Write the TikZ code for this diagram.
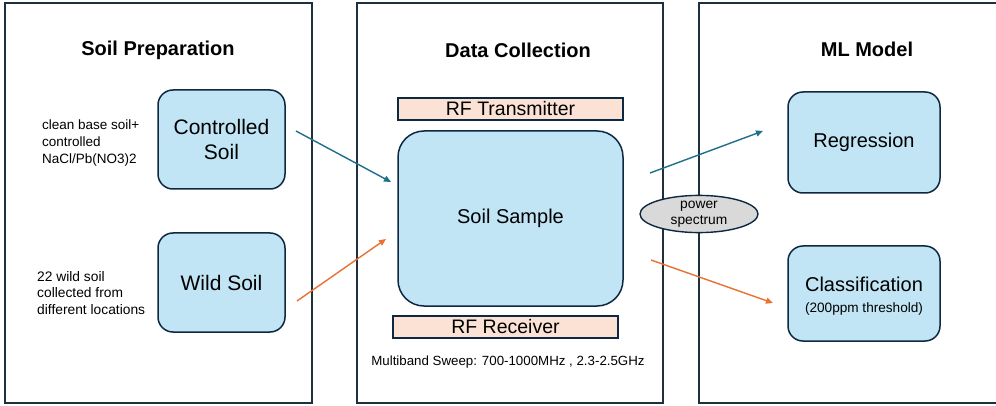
\documentclass[tikz,border=0pt]{standalone}
\usepackage{fontspec}
\setmainfont{Liberation Sans}
\usetikzlibrary{shapes.geometric,arrows.meta}
\definecolor{navy}{HTML}{0E2841}
\definecolor{panelline}{HTML}{1E3040}
\definecolor{boxfill}{HTML}{C1E5F5}
\definecolor{peach}{HTML}{FBE2D5}
\definecolor{bluearr}{HTML}{1F6E8C}
\definecolor{orangearr}{HTML}{E97132}
\definecolor{ellfill}{HTML}{D9D9D9}
\tikzset{
  panel/.style={draw=panelline, line width=1.6pt, fill=white, inner sep=0pt},
  paneltitle/.style={font=\bfseries\fontsize{20}{23}\selectfont, inner sep=0pt},
  softbox/.style={draw=navy, line width=1.5pt, fill=boxfill, rounded corners=15pt, inner sep=0pt, align=center, font=\fontsize{20}{25}\selectfont},
  rfbar/.style={draw=navy, line width=1.3pt, fill=peach, inner sep=0pt, font=\fontsize{19.5}{22}\selectfont},
  note/.style={align=left, inner sep=0pt, font=\fontsize{13.5}{16.8}\selectfont},
  conn/.style={line width=1.4pt, -{Triangle[length=7pt,width=6pt]}},
}
\begin{document}
\begin{tikzpicture}[x=1pt,y=-1pt]
\useasboundingbox (0,0) rectangle (996,406);
\clip (0,0) rectangle (996,406);
\fill[white] (0,0) rectangle (996,406);
% panels
\node[panel, minimum width=307pt, minimum height=400pt] (p1) at (158.5,203) {};
\node[panel, minimum width=306pt, minimum height=400pt] (p2) at (510,203) {};
\node[panel, minimum width=320pt, minimum height=400pt] (p3) at (859,203) {};
% titles
\node[paneltitle] (t1) at (158,50) {Soil Preparation};
\node[paneltitle] (t2) at (518,50) {Data Collection};
\node[paneltitle] (t3) at (867,49) {ML Model};
% soil preparation
\node[softbox, minimum width=127pt, minimum height=99pt, font=\fontsize{21}{25}\selectfont] (ctrl) at (221.5,139.5) {Controlled\\Soil};
\node[softbox, minimum width=127pt, minimum height=99pt, font=\fontsize{21}{25}\selectfont] (wild) at (221.5,282.5) {Wild Soil};
\node[note, anchor=west] (n1) at (42,143) {clean base soil+\\controlled\\NaCl/Pb(NO3)2};
\node[note, anchor=west, font=\fontsize{13.8}{16.8}\selectfont] (n2) at (37,293) {22 wild soil\\collected from\\different locations};
% data collection
\node[rfbar, minimum width=225pt, minimum height=22pt] (tx) at (510.5,109) {RF Transmitter};
\node[softbox, rounded corners=26pt, minimum width=225pt, minimum height=175pt] (sample) at (510.5,218.5) {Soil Sample};
\node[rfbar, minimum width=225pt, minimum height=22pt] (rx) at (505.5,327) {RF Receiver};
\node[note, font=\fontsize{13.3}{15}\selectfont] (sweep) at (508,362) {Multiband Sweep: 700-1000MHz , 2.3-2.5GHz};
% power spectrum
\node[ellipse, draw=navy, line width=1.4pt, fill=ellfill, minimum width=118pt, minimum height=36pt, inner sep=0pt, align=center, font=\fontsize{13.8}{16}\selectfont] (ps) at (699,214) {power\\spectrum};
% ML model
\node[softbox, minimum width=152pt, minimum height=101pt] (reg) at (864,142.5) {Regression};
\node[softbox, minimum width=152pt, minimum height=95pt] (cls) at (864,293.5) {\\[-6pt]Classification\\[-4pt]{\fontsize{13.6}{15}\selectfont(200ppm threshold)}};
% connector coordinates
\coordinate (a1s) at (296,131);
\coordinate (a1e) at (391,182);
\coordinate (a2s) at (297,301);
\coordinate (a2e) at (386,239);
\coordinate (a3s) at (650,173);
\coordinate (a3e) at (763,131);
\coordinate (a4s) at (651,260);
\coordinate (a4e) at (773,303);
\draw[conn, bluearr] (a1s) -- (a1e);
\draw[conn, orangearr] (a2s) -- (a2e);
\draw[conn, bluearr] (a3s) -- (a3e);
\draw[conn, orangearr] (a4s) -- (a4e);
\end{tikzpicture}
\end{document}
